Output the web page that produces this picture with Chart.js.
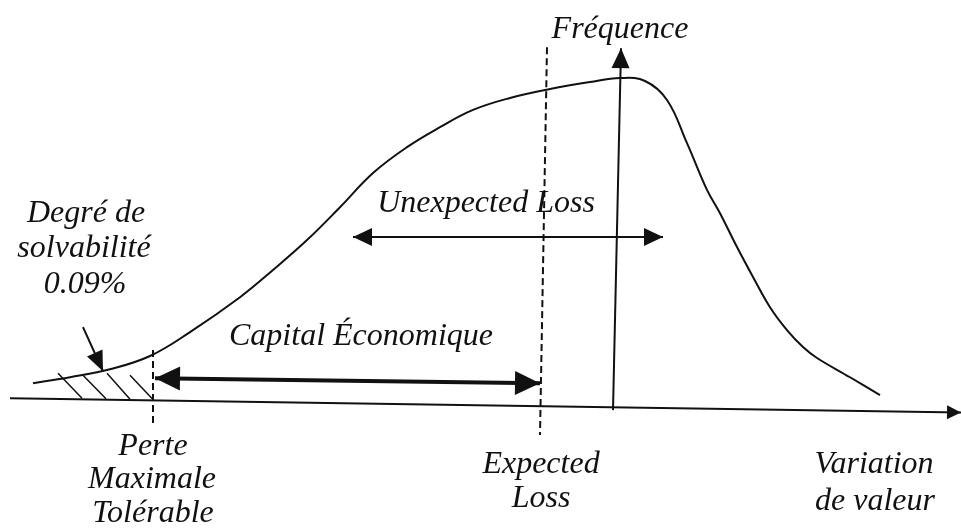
<!DOCTYPE html>
<html>
<head>
<meta charset="utf-8">
<script src="https://cdn.jsdelivr.net/npm/chart.js@4"></script>
<style>
  html, body { margin: 0; padding: 0; background: #fff; }
  #box { width: 961px; height: 529px; }
</style>
</head>
<body>
<div id="box"><canvas id="courbe" width="961" height="529"></canvas></div>
<script>
// distribution des pertes (unites arbitraires, frequence max = 100)
var courbeX = [3.3, 7.0, 11.0, 15.0, 19.0, 24.0, 27.3, 30.7, 34.0, 37.3, 40.7, 44.0, 47.3, 51.0, 55.0, 59.0, 62.0, 64.5, 66.7, 68.7, 70.7, 72.0, 73.7, 75.3, 77.0, 78.7, 80.3, 81.7, 85.0, 88.0];
var courbeY = [8.1, 9.9, 12.3, 16.3, 23.5, 34.0, 42.2, 51.2, 61.1, 71.4, 79.2, 85.2, 90.4, 94.0, 96.7, 98.8, 100, 99.1, 93.4, 80.4, 66.3, 59.3, 49.1, 40.1, 31.0, 24.1, 19.0, 15.7, 9.9, 4.5];

// axes
var axeX = [1, 96.1];
var axeY = [3.6, -0.7];
var freqX = [61.3, 62.1];
var freqY = [0, 109];

// reperes en pointilles
var perteMaxX = [15.3, 15.3];
var perteMaxY = [18.1, -4.5];
var expectedX = [54.7, 54.0];
var expectedY = [109.3, -7.5];

// fleches
var capitalX = [15.5, 54.0];
var capitalY = [9.6, 8.1];
var unexpX = [35.3, 66.3];
var unexpY = [52.1, 52.1];
var solvX = [8.3, 10.3];
var solvY = [25, 11.7];

// hachures (null = coupure)
var hachX = [5.8, 8.2, null, 8.3, 10.6, null, 10.7, 13.0, null, 13.0, 15.3];
var hachY = [11.1, 3.6, null, 10.5, 3.4, null, 11.1, 3.3, null, 10.5, 3.2];

// textes
var etiquettes = ['Fréquence', 'Unexpected Loss', 'Degré de', 'solvabilité', '0.09%', 'Capital Économique',
                  'Perte', 'Maximale', 'Tolérable', 'Expected', 'Loss', 'Variation', 'de valeur'];
var etiqX = [62, 48.6, 8.6, 8.4, 8.5, 36.1, 15.3, 15.2, 15.3, 54.1, 54.1, 87.4, 87.5];
var etiqY = [112.0, 59.6, 56.6, 46.1, 35.2, 19.6, -13.6, -23.5, -33.7, -19.0, -29.2, -19.0, -30.1];

function pts(xs, ys) {
    var out = [];
    for (var i = 0; i < xs.length; i++) {
        out.push({x: xs[i], y: ys[i]});
    }
    return out;
}

function trait(data, extra) {
    var ds = {
        data: data,
        borderColor: '#111',
        borderWidth: 2,
        pointRadius: 0,
        fill: false,
        tension: 0,
        spanGaps: false
    };
    for (var k in extra) ds[k] = extra[k];
    return ds;
}

// pointes de fleches sur les extremites des traits
var flechesPlugin = {
    id: 'fleches',
    afterDatasetsDraw: function (chart) {
        var ctx = chart.ctx;
        chart.data.datasets.forEach(function (ds, i) {
            if (!ds.arrow) return;
            var p = chart.getDatasetMeta(i).data;
            var tete = function (a, b) {
                var dx = b.x - a.x, dy = b.y - a.y;
                var n = Math.sqrt(dx * dx + dy * dy);
                dx /= n; dy /= n;
                var L = ds.arrow.len, W = ds.arrow.wid / 2;
                ctx.beginPath();
                ctx.moveTo(b.x, b.y);
                ctx.lineTo(b.x - dx * L - dy * W, b.y - dy * L + dx * W);
                ctx.lineTo(b.x - dx * L + dy * W, b.y - dy * L - dx * W);
                ctx.closePath();
                ctx.fill();
            };
            ctx.save();
            ctx.fillStyle = '#111';
            var last = p.length - 1;
            if (ds.arrow.end) tete(p[last - 1], p[last]);
            if (ds.arrow.start) tete(p[1], p[0]);
            ctx.restore();
        });
    }
};

var textesPlugin = {
    id: 'textes',
    afterDatasetsDraw: function (chart) {
        var ctx = chart.ctx;
        var sx = chart.scales.x, sy = chart.scales.y;
        ctx.save();
        ctx.fillStyle = '#111';
        ctx.font = 'italic 32px "Liberation Serif", "Times New Roman", serif';
        ctx.textAlign = 'center';
        ctx.textBaseline = 'alphabetic';
        for (var i = 0; i < etiquettes.length; i++) {
            ctx.fillText(etiquettes[i], sx.getPixelForValue(etiqX[i]), sy.getPixelForValue(etiqY[i]));
        }
        ctx.restore();
    }
};

var ctx = document.getElementById('courbe');
var graphe = new Chart(ctx, {
    type: 'line',
    data: {
        datasets: [
            trait(pts(courbeX, courbeY), {tension: 0.4}),
            trait(pts(axeX, axeY), {borderWidth: 2, arrow: {end: true, len: 14, wid: 14}}),
            trait(pts(freqX, freqY), {arrow: {end: true, len: 20, wid: 18}}),
            trait(pts(perteMaxX, perteMaxY), {borderDash: [7, 4]}),
            trait(pts(expectedX, expectedY), {borderDash: [7, 4]}),
            trait(pts(capitalX, capitalY), {borderWidth: 4, arrow: {start: true, end: true, len: 25, wid: 24}}),
            trait(pts(unexpX, unexpY), {arrow: {start: true, end: true, len: 19, wid: 18}}),
            trait(pts(solvX, solvY), {arrow: {end: true, len: 20, wid: 17}}),
            trait(pts(hachX, hachY), {borderWidth: 1.5})
        ]
    },
    options: {
        responsive: false,
        animation: false,
        devicePixelRatio: 1,
        layout: { padding: 0 },
        plugins: {
            legend: { display: false },
            tooltip: { enabled: false }
        },
        scales: {
            x: { type: 'linear', min: 0, max: 96.1, display: false },
            y: { type: 'linear', min: -35.8, max: 123.5, display: false }
        }
    },
    plugins: [flechesPlugin, textesPlugin]
});
</script>
</body>
</html>
